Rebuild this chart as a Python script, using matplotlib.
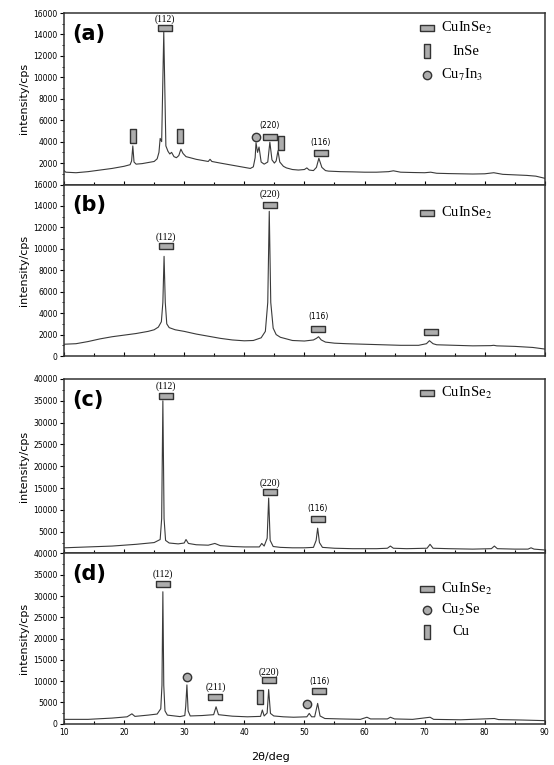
import matplotlib
matplotlib.use("Agg")
import matplotlib.pyplot as plt
from matplotlib.ticker import MultipleLocator, AutoMinorLocator, FixedLocator

plt.rcParams['mathtext.fontset'] = 'stix'

# 2theta / intensity
tt_a = [10.0, 10.3, 12, 14, 16, 18, 20, 21.0, 21.25, 21.45, 21.65, 22.0, 23, 24, 25.0, 25.5, 25.8,
        26.0, 26.25, 26.6, 26.95, 27.3, 27.6, 27.9, 28.3, 28.7, 29.1, 29.45, 29.8, 30.3, 31, 32, 33,
        34.0, 34.3, 34.6, 36, 37, 38, 39, 40, 41.0, 41.5, 41.8, 41.95, 42.2, 42.45, 42.8, 43.3, 43.9,
        44.25, 44.6, 45.0, 45.3, 45.6, 45.9, 46.5, 47, 48, 49, 50.0, 50.4, 50.8, 51.5, 52.0, 52.4,
        52.9, 53.5, 54, 56, 58, 60, 62, 64, 64.8, 66, 68, 70, 71, 72, 74, 76, 78, 80, 81.5, 83, 85,
        87, 88.5, 90]
int_a = [1300, 1150, 1100, 1200, 1350, 1500, 1700, 1850, 2200, 3600, 2100, 1900, 1950, 2050, 2150,
         2400, 3000, 4300, 4000, 14200, 3600, 3100, 2850, 3000, 2600, 2500, 2700, 3300, 2900, 2600,
         2500, 2350, 2250, 2150, 2350, 2150, 2000, 1900, 1800, 1700, 1600, 1500, 1650, 2500, 3900,
         3000, 3500, 2100, 1900, 2100, 3950, 2300, 2000, 2200, 3150, 2100, 1700, 1550, 1400, 1350,
         1400, 1550, 1350, 1300, 1600, 2450, 1600, 1300, 1250, 1200, 1180, 1150, 1150, 1200, 1280,
         1150, 1120, 1100, 1150, 1050, 1020, 1000, 980, 1000, 1100, 950, 900, 850, 780, 580]

tt_b = [10, 12, 14, 16, 18, 20, 22, 24, 25.0, 25.7, 26.2, 26.45, 26.65, 26.85, 27.1, 27.5, 28.5, 30,
        32, 34, 36, 38, 40, 41.5, 42.8, 43.5, 43.9, 44.15, 44.4, 44.8, 45.3, 46, 47, 48, 50, 51.5,
        52.0, 52.35, 52.8, 53.5, 55, 57, 60, 63, 66, 69, 70.3, 70.8, 71.4, 72, 75, 78, 81, 81.5, 82,
        85, 88, 90]
int_b = [1100, 1150, 1350, 1600, 1800, 1950, 2100, 2300, 2450, 2700, 3200, 5000, 9300, 5000, 3000,
         2650, 2450, 2300, 2050, 1850, 1650, 1500, 1420, 1450, 1700, 2300, 5000, 13500, 5000, 2600,
         2000, 1750, 1600, 1450, 1400, 1500, 1650, 1800, 1500, 1300, 1200, 1150, 1100, 1050, 1000,
         1000, 1150, 1430, 1150, 1050, 1000, 950, 970, 1000, 950, 900, 800, 650]

tt_c = [10, 14, 18, 22, 25, 26.0, 26.25, 26.45, 26.65, 26.9, 27.5, 29, 30.0, 30.3, 30.7, 32, 34,
        35.1, 36, 38, 40, 42.5, 42.9, 43.3, 43.8, 44.05, 44.3, 44.8, 46, 48, 50, 51.5, 51.95, 52.2,
        52.5, 53, 55, 58, 62, 63.8, 64.3, 64.8, 67, 70.4, 70.9, 71.4, 74, 78, 81.1, 81.6, 82.1, 85,
        87.2, 87.7, 88.2, 90]
int_c = [1300, 1500, 1700, 2100, 2500, 3200, 8000, 35000, 8000, 3000, 2400, 2200, 2400, 3200, 2300,
         2000, 1900, 2300, 1800, 1600, 1500, 1500, 2300, 1700, 3500, 12700, 3000, 1600, 1400, 1300,
         1300, 1400, 3000, 5800, 2500, 1400, 1200, 1100, 1100, 1200, 1700, 1200, 1100, 1200, 2100,
         1200, 1100, 1000, 1100, 1700, 1100, 1000, 1000, 1300, 1000, 800]

tt_d = [10, 14, 18, 20.5, 21.3, 21.8, 24, 25.5, 26.1, 26.3, 26.45, 26.6, 26.8, 27.2, 29.3, 30.1,
        30.25, 30.45, 30.65, 31.0, 33, 34.9, 35.3, 35.7, 38, 40.5, 42.7, 43.0, 43.3, 43.8, 44.05,
        44.35, 44.9, 46.5, 48.2, 50.4, 50.8, 51.2, 51.7, 52.2, 52.6, 53.4, 56, 59.3, 60.4, 61, 63.8,
        64.3, 65, 68, 70.9, 71.5, 76, 81.6, 82.3, 86, 90]
int_d = [1000, 1000, 1300, 1600, 2300, 1700, 2000, 2250, 3500, 9000, 31000, 9000, 3000, 2000, 1650,
         1900, 4000, 9100, 3000, 1800, 1900, 2100, 3950, 2100, 1750, 1600, 1700, 3200, 1800, 2500,
         8000, 2400, 1800, 1600, 1500, 1600, 2400, 1600, 1600, 4750, 1800, 1200, 1100, 1000, 1500,
         1100, 1100, 1500, 1100, 1000, 1500, 1000, 900, 1200, 950, 850, 700]

# phase marks: (2theta, intensity, symbol, hkl label, label intensity)
marks_a = [(26.8, 14630, 'h', '(112)', 15450), (21.5, 4530, 'v', '', 0), (29.3, 4530, 'v', '', 0),
           (41.9, 4440, 'o', '', 0), (44.2, 4470, 'h', '(220)', 5500), (46.05, 3850, 'v', '', 0),
           (52.7, 2930, 'h', '(116)', 3900)]
marks_b = [(26.9, 10220, 'h', '(112)', 11100), (44.3, 14130, 'h', '(220)', 15100),
           (52.3, 2520, 'h', '(116)', 3650), (71.0, 2210, 'h', '', 0)]
marks_c = [(26.9, 36200, 'h', '(112)', 38400), (44.3, 14050, 'h', '(220)', 16000),
           (52.2, 7900, 'h', '(116)', 10200)]
marks_d = [(26.5, 32880, 'h', '(112)', 35100), (30.4, 10850, 'o', '', 0),
           (35.2, 6160, 'h', '(211)', 8450), (42.6, 6160, 'v', '', 0),
           (44.05, 10220, 'h', '(220)', 12200), (50.5, 4520, 'o', '', 0),
           (52.5, 7710, 'h', '(116)', 9850)]

# legend entries: (symbol, phase name, intensity of the row)
leg_a = [('h', 'CuInSe$_2$', 14580), ('v', 'InSe', 12410), ('o', 'Cu$_7$In$_3$', 10250)]
leg_b = [('h', 'CuInSe$_2$', 13350)]
leg_c = [('h', 'CuInSe$_2$', 36770)]
leg_d = [('h', 'CuInSe$_2$', 31710), ('o', 'Cu$_2$Se', 26620), ('v', 'Cu', 21540)]

panels = [('(a)', tt_a, int_a, marks_a, leg_a, 16000, 2000, [0.7588, 0.2242]),
          ('(b)', tt_b, int_b, marks_b, leg_b, 16000, 2000, [0.5346, 0.2242]),
          ('(c)', tt_c, int_c, marks_c, leg_c, 40000, 5000, [0.2765, 0.2281]),
          ('(d)', tt_d, int_d, marks_d, leg_d, 40000, 5000, [0.0541, 0.2224])]

hrect = [(-1.15, -0.5), (1.15, -0.5), (1.15, 0.5), (-1.15, 0.5), (-1.15, -0.5)]
vrect = [(-0.5, -1.0), (0.5, -1.0), (0.5, 1.0), (-0.5, 1.0), (-0.5, -1.0)]
sym = {'h': (hrect, 9.5), 'v': (vrect, 9.5), 'o': ('o', 6)}
serif_hkl = ['(112)', '(211)']


def mark(ax, x, y, s):
    m, ms = sym[s]
    ax.plot([x], [y], marker=m, ms=ms, mfc='#adadad', mec='#333333', mew=1.0, ls='none',
            clip_on=False, zorder=5)


fig = plt.figure(figsize=(5.54, 7.65), dpi=100)
for i, (tag, tt, inten, marks, leg, ymax, ystep, (y0, h)) in enumerate(panels):
    ax = fig.add_axes([0.1155, y0, 0.868, h])
    ax.plot(tt, inten, color='#3a3a3a', lw=0.8)
    ax.set_xlim(10, 90)
    ax.set_ylim(0, ymax)
    ax.xaxis.set_major_locator(MultipleLocator(10))
    ax.xaxis.set_minor_locator(MultipleLocator(5))
    start = ystep if tag in ('(a)', '(c)') else 0
    ax.yaxis.set_major_locator(FixedLocator(list(range(start, ymax + 1, ystep))))
    ax.yaxis.set_minor_locator(AutoMinorLocator(2))
    ax.tick_params(axis='x', which='both', direction='in', length=3, width=0.8, labelsize=5.5)
    ax.tick_params(axis='x', which='minor', length=2)
    ax.tick_params(axis='y', which='major', direction='out', length=3, width=0.8, labelsize=5.5, pad=1.5)
    ax.tick_params(axis='y', which='minor', direction='out', length=1.5, width=0.6)
    if tag != '(d)':
        ax.tick_params(axis='x', labelbottom=False)
    for sp in ax.spines.values():
        sp.set_linewidth(1.1)
        sp.set_color('#333333')
    ax.set_ylabel('intensity/cps', fontsize=8)
    ax.yaxis.set_label_coords(-0.072, 0.5)
    ax.text(0.018, 0.88, tag, transform=ax.transAxes, fontsize=15, fontweight='bold',
            va='center', ha='left')
    for x, y, s, lab, ly in marks:
        mark(ax, x, y, s)
        if lab:
            serif = lab in serif_hkl or (lab == '(220)' and tag != '(a)')
            ax.text(x, ly, lab, ha='center', va='center',
                    fontsize=7 if serif else 5.5,
                    family='Liberation Serif' if serif else 'DejaVu Sans')
    for s, name, y in leg:
        mark(ax, 70.4, y, s)
        ax.text(72.7 if s != 'v' else 74.6, y, name, fontsize=10.5, family='Liberation Serif',
                va='center', ha='left')
    if tag == '(d)':
        ax.set_xlabel('2θ/deg', fontsize=8)
        ax.xaxis.set_label_coords(0.43, -0.165)

fig.savefig('out.png', dpi=100)
